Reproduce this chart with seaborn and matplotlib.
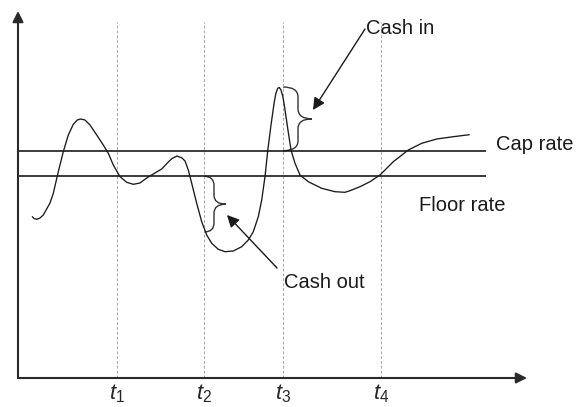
import numpy as np
import pandas as pd
import matplotlib
matplotlib.use("Agg")
import matplotlib.pyplot as plt
import seaborn as sns
from matplotlib.path import Path
from matplotlib.patches import PathPatch

# interest rate path
rate_x = [14.3, 16, 18.7, 22, 25.3, 32, 35.3, 40.3, 45.3, 50.3, 55.3, 59.3, 62.7, 67,
          72, 78.7, 85.3, 90.3, 95.3, 102, 108.7, 115.3, 122, 128.7, 135.3, 143.7,
          150.3, 154, 159, 164, 167, 170.3, 173.7, 178.7, 183.7, 188.7, 193.7, 200.3,
          207, 215.3, 223.7, 230.3, 235.3, 240.3, 243.7, 247, 249.7, 253, 256.3, 258,
          259.7, 261.3, 263, 264.7, 266.3, 269.7, 273, 277, 282, 290.3, 303.7, 317,
          327, 332, 342, 352, 362, 375.3, 390.3, 403.7, 418.7, 435.3, 451.3]
rate_y = [161.3, 159.5, 158.7, 160, 163, 175, 184.7, 206.3, 226.3, 243, 253.7, 258,
          259, 258, 253, 243, 233, 224.7, 213, 201.3, 195.7, 193.7, 195, 200, 204,
          209, 216, 219.5, 222, 220, 217, 208, 194.7, 174.7, 156.3, 143, 134.7, 128.7,
          126.3, 127, 131.3, 138, 146.3, 161.3, 178, 201.3, 227, 253, 276.3, 285,
          289.7, 290.5, 288, 282, 273, 249.7, 228, 214.7, 203, 196.3, 189.7, 186.3,
          185.7, 187.3, 191.3, 196.3, 203, 216.3, 228, 234.7, 239, 241.3, 243.3]

cap_rate = 227.3
floor_rate = 201.7
rate_line_end = 468

t_pos = [98.7, 186, 265, 363]
t_labels = ["$t_1$", "$t_2$", "$t_3$", "$t_4$"]

df = pd.DataFrame({"time": rate_x, "rate": rate_y})

sns.set_style("white")
plt.rcParams["font.family"] = ["Liberation Sans", "DejaVu Sans"]
plt.rcParams["mathtext.fontset"] = "custom"
plt.rcParams["mathtext.it"] = "Liberation Sans:italic"
plt.rcParams["mathtext.rm"] = "Liberation Sans"

fig = plt.figure(figsize=(5.77, 4.07), dpi=100)
ax = fig.add_axes([18 / 577, 29 / 407, 509 / 577, 367 / 407])
ax.set_xlim(0, 509)
ax.set_ylim(0, 367)
for s in ax.spines.values():
    s.set_visible(False)

# dashed time markers
ax.vlines(t_pos, 0, 356, colors="#a8a8a8", linestyles=(0, (3, 2)), linewidth=0.7)

# cap / floor
ax.hlines([cap_rate, floor_rate], 0, rate_line_end, colors="#1a1a1a", linewidth=1.2)

# the rate path
sns.lineplot(data=df, x="time", y="rate", sort=False, estimator=None,
             color="#1a1a1a", linewidth=0.95, ax=ax)

# axes drawn as arrows
arrow_kw = dict(arrowstyle="-|>", color="#2a2a2a", lw=1.5, mutation_scale=16,
                shrinkA=0, shrinkB=0)
ax.annotate("", xy=(509, 0), xytext=(0, 0), arrowprops=arrow_kw, annotation_clip=False)
ax.annotate("", xy=(0, 367), xytext=(0, 0), arrowprops=arrow_kw, annotation_clip=False)


def brace(x0, xv, xtip, ylo, yhi, r):
    ymid = (ylo + yhi) / 2
    verts = [(x0, yhi), (xv, yhi), (xv, yhi - r),
             (xv, ymid + r),
             (xv, ymid), (xtip, ymid),
             (xv, ymid), (xv, ymid - r),
             (xv, ylo + r),
             (xv, ylo), (x0, ylo)]
    codes = [Path.MOVETO, Path.CURVE3, Path.CURVE3, Path.LINETO, Path.CURVE3, Path.CURVE3,
             Path.CURVE3, Path.CURVE3, Path.LINETO, Path.CURVE3, Path.CURVE3]
    return PathPatch(Path(verts, codes), fill=False, edgecolor="#333333", lw=1.0)


ax.add_patch(brace(186, 196, 208, 146, floor_rate, 9))
ax.add_patch(brace(265, 280, 294, cap_rate, 291, 10))

pointer = dict(arrowstyle="-|>", color="#1a1a1a", lw=1.0, mutation_scale=18,
               shrinkA=0, shrinkB=0)
ax.annotate("", xy=(209, 163), xytext=(259, 110), arrowprops=pointer)
ax.annotate("", xy=(295, 268), xytext=(347, 349), arrowprops=pointer)

fs = 14.5
ax.text(266, 90, "Cash out", fontsize=fs, va="baseline", color="#1a1a1a")
ax.text(348, 344, "Cash in", fontsize=fs, va="baseline", color="#1a1a1a")
ax.text(478, 228, "Cap rate", fontsize=fs, va="baseline", color="#1a1a1a", clip_on=False)
ax.text(401, 167, "Floor rate", fontsize=fs, va="baseline", color="#1a1a1a")

ax.set_xticks(t_pos)
ax.set_xticklabels(t_labels, fontsize=16)
ax.set_yticks([])
ax.tick_params(axis="x", length=0, pad=3)
ax.set_xlabel("")
ax.set_ylabel("")

fig.savefig("out.png", dpi=100)
